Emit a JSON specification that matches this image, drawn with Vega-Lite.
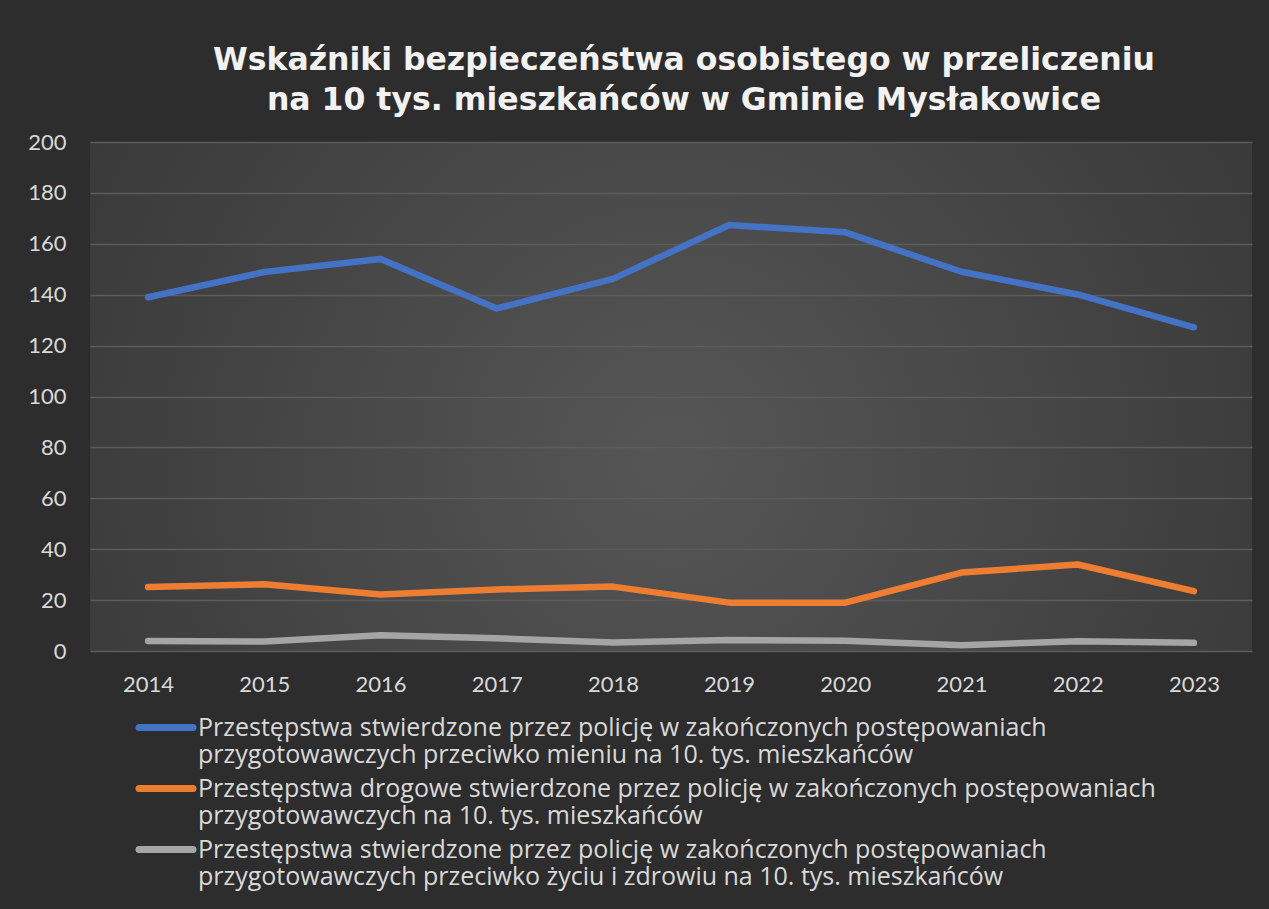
{
  "$schema": "https://vega.github.io/schema/vega-lite/v6.json",
  "width": 1162,
  "height": 509,
  "autosize": {"type": "pad"},
  "padding": {"left": 27, "top": 44, "right": 17, "bottom": 19},
  "background": "#2d2d2d",
  "title": {
    "text": ["Wskaźniki bezpieczeństwa osobistego w przeliczeniu", "na 10 tys. mieszkańców w Gminie Mysłakowice"],
    "font": "DejaVu Sans",
    "fontSize": 31.5,
    "fontWeight": "bold",
    "color": "#f2f2f2",
    "lineHeight": 40,
    "anchor": "middle",
    "dx": 13,
    "offset": 15
  },
  "config": {
    "view": {
      "stroke": null,
      "fill": {
        "gradient": "radial",
        "x1": 0.5, "y1": 0.55, "r1": 0,
        "x2": 0.5, "y2": 0.55, "r2": 0.8,
        "stops": [
          {"offset": 0, "color": "#565656"},
          {"offset": 1, "color": "#2e2e2e"}
        ]
      }
    },
    "axis": {
      "labelFont": "Lato",
      "labelFontSize": 22,
      "labelColor": "#d9d9d9",
      "domain": false,
      "ticks": false,
      "title": null
    }
  },
  "data": {
    "values": [
      {"rok": "2014", "seria": "A", "wartosc": 139.0},
      {"rok": "2015", "seria": "A", "wartosc": 148.9},
      {"rok": "2016", "seria": "A", "wartosc": 154.0},
      {"rok": "2017", "seria": "A", "wartosc": 134.6},
      {"rok": "2018", "seria": "A", "wartosc": 146.2},
      {"rok": "2019", "seria": "A", "wartosc": 167.4},
      {"rok": "2020", "seria": "A", "wartosc": 164.5},
      {"rok": "2021", "seria": "A", "wartosc": 149.0},
      {"rok": "2022", "seria": "A", "wartosc": 140.1},
      {"rok": "2023", "seria": "A", "wartosc": 127.2},
      {"rok": "2014", "seria": "B", "wartosc": 25.1},
      {"rok": "2015", "seria": "B", "wartosc": 26.2},
      {"rok": "2016", "seria": "B", "wartosc": 22.2},
      {"rok": "2017", "seria": "B", "wartosc": 24.2},
      {"rok": "2018", "seria": "B", "wartosc": 25.3},
      {"rok": "2019", "seria": "B", "wartosc": 19.0},
      {"rok": "2020", "seria": "B", "wartosc": 19.0},
      {"rok": "2021", "seria": "B", "wartosc": 30.8},
      {"rok": "2022", "seria": "B", "wartosc": 34.0},
      {"rok": "2023", "seria": "B", "wartosc": 23.5},
      {"rok": "2014", "seria": "C", "wartosc": 3.9},
      {"rok": "2015", "seria": "C", "wartosc": 3.7},
      {"rok": "2016", "seria": "C", "wartosc": 6.2},
      {"rok": "2017", "seria": "C", "wartosc": 5.0},
      {"rok": "2018", "seria": "C", "wartosc": 3.3},
      {"rok": "2019", "seria": "C", "wartosc": 4.3},
      {"rok": "2020", "seria": "C", "wartosc": 4.0},
      {"rok": "2021", "seria": "C", "wartosc": 2.3},
      {"rok": "2022", "seria": "C", "wartosc": 3.8},
      {"rok": "2023", "seria": "C", "wartosc": 3.2}
    ]
  },
  "mark": {"type": "line", "strokeWidth": 6.5, "strokeCap": "round", "strokeJoin": "round"},
  "encoding": {
    "x": {
      "field": "rok",
      "type": "ordinal",
      "scale": {"type": "point", "padding": 0.5},
      "axis": {"labelAngle": 0, "labelPadding": 23, "grid": false}
    },
    "y": {
      "field": "wartosc",
      "type": "quantitative",
      "scale": {"domain": [0, 200]},
      "axis": {"values": [0, 20, 40, 60, 80, 100, 120, 140, 160, 180, 200], "labelPadding": 24, "grid": true, "gridColor": "#5c5c5c", "gridWidth": 1.5}
    },
    "color": {
      "field": "seria",
      "type": "nominal",
      "scale": {"domain": ["A", "B", "C"], "range": ["#4472c4", "#ed7d31", "#a5a5a5"]},
      "legend": {
        "title": null,
        "orient": "none",
        "legendX": 80,
        "legendY": 572,
        "direction": "vertical",
        "symbolType": "M-4.45,0L0.95,0",
        "symbolSize": 400,
        "symbolStrokeWidth": 7,
        "labelFont": "Open Sans",
        "labelFontSize": 25,
        "labelColor": "#d9d9d9",
        "labelLimit": 1200,
        "labelOffset": 1,
        "labelBaseline": "middle",
        "labelLineHeight": 27,
        "rowPadding": 6,
        "encode": {"symbols": {"update": {"strokeCap": {"value": "round"}}}},
        "labelExpr": "datum.label === 'A' ? ['Przestępstwa stwierdzone przez policję w zakończonych postępowaniach', 'przygotowawczych przeciwko mieniu na 10. tys. mieszkańców'] : datum.label === 'B' ? ['Przestępstwa drogowe stwierdzone przez policję w zakończonych postępowaniach', 'przygotowawczych na 10. tys. mieszkańców'] : ['Przestępstwa stwierdzone przez policję w zakończonych postępowaniach', 'przygotowawczych przeciwko życiu i zdrowiu na 10. tys. mieszkańców']"
      }
    }
  }
}
